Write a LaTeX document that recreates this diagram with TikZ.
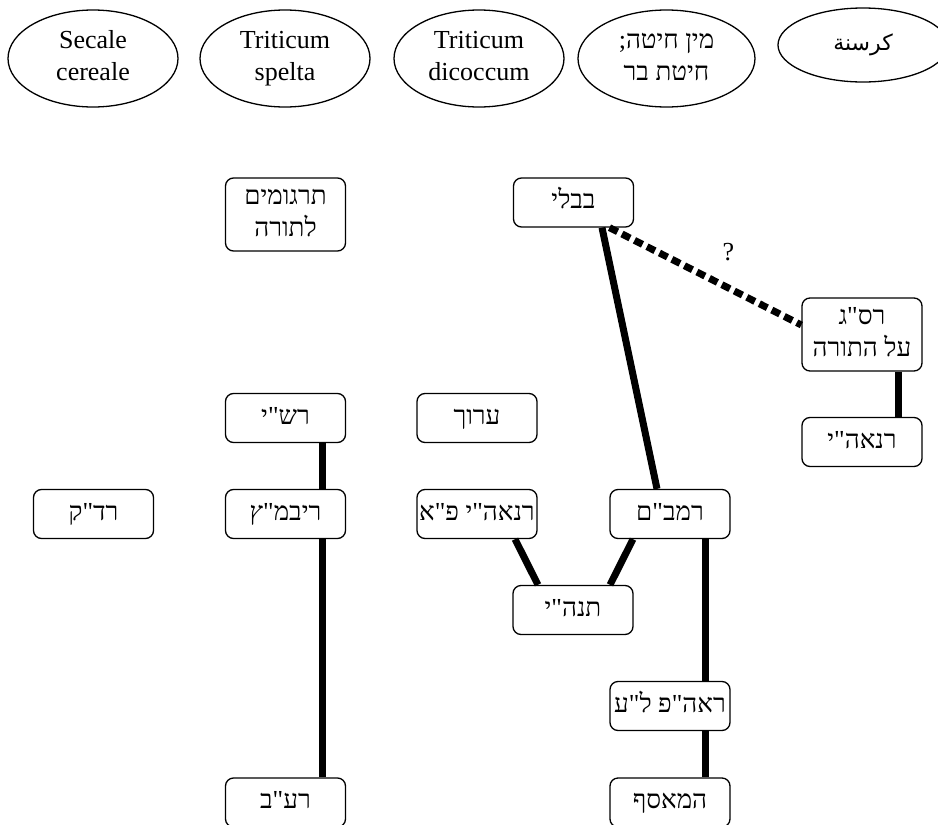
\documentclass[tikz,border=0pt]{standalone}
\usepackage{fontspec}
\setmainfont{Liberation Serif}
\newfontfamily\hebfont[Script=Hebrew]{Liberation Serif}
\newfontfamily\arabicfont[Script=Arabic]{DejaVu Sans}
\TeXXeTstate=1
\newcommand{\hebtxt}[1]{{\hebfont\beginR #1\endR}\strut}
\newcommand{\lattxt}[1]{#1\strut}
\tikzset{
  every node/.style={font=\fontsize{26}{32}\selectfont, inner sep=0pt},
  species/.style={draw, line width=1.3pt, ellipse, minimum width=170pt, minimum height=97pt, align=center},
  src/.style={draw, line width=1.3pt, rounded corners=8pt, minimum width=120pt, minimum height=49pt, align=center},
  src2/.style={src, minimum height=73pt},
  link/.style={line width=7pt},
  maybe/.style={line width=7pt, dash pattern=on 9pt off 5pt},
}
\usetikzlibrary{shapes.geometric}
\begin{document}
\begin{tikzpicture}[x=1pt, y=-1pt]
\useasboundingbox (0,0) rectangle (938,825);
% species ellipses
\node[species] (sec) at (93,58.5) {\lattxt{Secale}\\\lattxt{cereale}};
\node[species] (spe) at (285,58.5) {\lattxt{Triticum}\\\lattxt{spelta}};
\node[species] (dic) at (479,58.5) {\lattxt{Triticum}\\\lattxt{dicoccum}};
\node[species, minimum width=177pt] (wild) at (666.5,58.5) {\hebtxt{מין חיטה;}\\\hebtxt{חיטת בר}};
\node[species, minimum height=74pt] (kars) at (863,45) {\arabicfont\fontsize{22}{26}\selectfont\beginR كرسنة\endR};
% sources
\node[src2] (targ) at (285.5,214.5) {\hebtxt{תרגומים}\\\hebtxt{לתורה}};
\node[src] (bavli) at (573.5,202.5) {\hebtxt{בבלי}};
\node[src2] (rasag) at (862,334.5) {\hebtxt{רס"ג}\\\hebtxt{על התורה}};
\node[src] (rnai) at (862,442) {\hebtxt{רנאה"י}};
\node[src] (rashi) at (285.5,418) {\hebtxt{רש"י}};
\node[src] (arukh) at (477,418) {\hebtxt{ערוך}};
\node[src] (radak) at (93.5,514) {\hebtxt{רד"ק}};
\node[src] (rivmatz) at (285.5,514) {\hebtxt{ריבמ"ץ}};
\node[src] (rnaipa) at (477,514) {\hebtxt{רנאה"י פ"א}};
\node[src] (rambam) at (670,514) {\hebtxt{רמב"ם}};
\node[src] (tnai) at (573,610) {\hebtxt{תנה"י}};
\node[src] (raap) at (670,706) {\hebtxt{ראה"פ ל"ע}};
\node[src] (rav) at (285.5,802.5) {\hebtxt{רע"ב}};
\node[src] (measef) at (670,802.5) {\hebtxt{המאסף}};
% connectors
\draw[link] ([xshift=36.5pt]rashi.south) -- ([xshift=36.5pt]rivmatz.north);
\draw[link] ([xshift=36.5pt]rivmatz.south) -- ([xshift=36.5pt]rav.north);
\draw[link] ([xshift=28.5pt]bavli.south) -- ([xshift=-13pt]rambam.north);
\draw[maybe] ([xshift=36pt]bavli.south) -- node[pos=0.62, above=24pt, inner sep=0pt] (q) {?} ([yshift=9.5pt]rasag.west);
\draw[link] ([xshift=36pt]rasag.south) -- ([xshift=36pt]rnai.north);
\draw[link] ([xshift=38pt]rnaipa.south) -- ([xshift=-35pt]tnai.north);
\draw[link] ([xshift=-37pt]rambam.south) -- ([xshift=37pt]tnai.north);
\draw[link] ([xshift=35pt]rambam.south) -- ([xshift=35pt]raap.north);
\draw[link] ([xshift=35pt]raap.south) -- ([xshift=35pt]measef.north);
\end{tikzpicture}
\end{document}
